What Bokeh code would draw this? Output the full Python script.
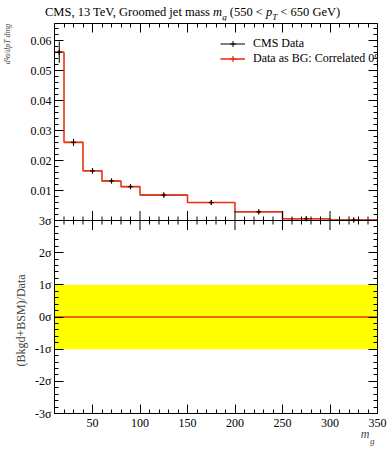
from math import pi
from bokeh.plotting import figure
from bokeh.models import (Range1d, LinearAxis, FixedTicker, CustomJSTickFormatter,
                          Legend, LegendItem, ColumnDataSource, Div, Span, Title)
from bokeh.layouts import column
from bokeh.embed import file_html
from bokeh.resources import INLINE

# ---------------- data ----------------
bin_edges = [10, 20, 40, 60, 80, 100, 150, 200, 250, 300, 350]
data_vals = [0.0562, 0.0261, 0.0166, 0.0132, 0.0113, 0.0085, 0.0060, 0.0029, 0.0006, 0.00015]
data_errs = [0.0036, 0.0012, 0.0009, 0.0007, 0.0007, 0.0005, 0.0003, 0.0002, 0.0001, 0.00005]
bg_vals = [0.0562, 0.0261, 0.0166, 0.0132, 0.0113, 0.0085, 0.0060, 0.0029, 0.0006, 0.00015]
ratio_sigma = [0, 0, 0, 0, 0, 0, 0, 0, 0, 0]
band_lo, band_hi = -1, 1

x_major = [50, 100, 150, 200, 250, 300, 350]
x_minor = [v for v in range(10, 351, 10) if v % 50]
top_major = [0.01, 0.02, 0.03, 0.04, 0.05, 0.06]
top_minor = [round(i * 0.002, 4) for i in range(1, 33) if i % 5]
sig_major = [-3, -2, -1, 0, 1, 2, 3]
sig_minor = [round(-3 + i * 0.2, 2) for i in range(31) if i % 5]

title_html = ("<span style=\"font-family:'Liberation Serif';font-size:12.5px;line-height:16px;"
              "white-space:nowrap;color:#000\">CMS, 13 TeV, Groomed jet mass <i>m</i>"
              "<sub style=\"font-size:9px;line-height:0\"><i>g</i></sub> (550 &lt; <i>p</i>"
              "<sub style=\"font-size:9px;line-height:0\"><i>T</i></sub> &lt; 650 GeV)</span>")
ylab_top = "d²σ/dpT dmg"
ylab_bottom = "(Bkgd+BSM)/Data"
xlab_main, xlab_sub = "m", "g"
legend_labels = ["CMS Data", "Data as BG: Correlated 0%"]

# ---------------- layout geometry ----------------
FONT = "Liberation Serif"
TOP_PX, BOT_PX = 197, 193
top_end = 0.0658
sig_lo, sig_hi = -3, 3
main_end = sig_hi + (sig_hi - sig_lo) * TOP_PX / BOT_PX
scale = (main_end - sig_hi) / top_end
top_start = -top_end * BOT_PX / TOP_PX

RED = "#ee3311"

p = figure(width=389, height=430, output_backend="svg", toolbar_location=None,
           x_range=Range1d(bin_edges[0], bin_edges[-1]), y_range=Range1d(sig_lo, main_end),
           min_border_left=49, min_border_right=12, min_border_top=3, min_border_bottom=37)
p.extra_y_ranges = {"top": Range1d(top_start, top_end)}
p.xgrid.visible = False
p.ygrid.visible = False
p.outline_line_color = "black"
p.background_fill_color = "white"
p.border_fill_color = "white"

xt = FixedTicker(ticks=x_major, minor_ticks=x_minor)
yt = FixedTicker(ticks=sig_major + [sig_hi + v * scale for v in top_major],
                 minor_ticks=sig_minor + [sig_hi + v * scale for v in top_minor])
yfmt = CustomJSTickFormatter(args=dict(s=scale, h=sig_hi), code="""
if (tick <= h + 1e-6) { const k = Math.round(tick); return k.toString() + 'σ'; }
return ((tick - h) / s).toFixed(2);
""")

def style_axis(ax, labels=True):
    ax.axis_line_color = "black"
    ax.major_tick_line_color = "black"
    ax.minor_tick_line_color = "black"
    ax.major_tick_in = 9
    ax.major_tick_out = 0
    ax.minor_tick_in = 4
    ax.minor_tick_out = 0
    if labels:
        ax.major_label_text_font = FONT
        ax.major_label_text_font_size = "12px"
        ax.major_label_text_color = "black"
    else:
        ax.formatter = CustomJSTickFormatter(code="return '';")
        ax.major_label_text_font_size = "0px"
        ax.major_label_standoff = 0

xb = p.xaxis[0]
xb.ticker = xt
style_axis(xb)
xb.major_label_standoff = 5
yl = p.yaxis[0]
yl.ticker = yt
yl.formatter = yfmt
style_axis(yl)
yl.major_label_standoff = 3

xa = LinearAxis(ticker=xt)
style_axis(xa, labels=False)
p.add_layout(xa, "above")
yr = LinearAxis(ticker=yt)
style_axis(yr, labels=False)
p.add_layout(yr, "right")

# ---------------- bottom panel ----------------
p.quad(left=bin_edges[0], right=bin_edges[-1], bottom=band_lo, top=band_hi,
       fill_color="#ffff00", line_color=None)
p.step(x=bin_edges, y=ratio_sigma + [ratio_sigma[-1]], mode="after", line_color=RED, line_width=1.5)

# ---------------- top panel ----------------
lo = bin_edges[:-1]
hi = bin_edges[1:]
xc = [(a + b) / 2 for a, b in zip(lo, hi)]
src = ColumnDataSource(dict(lo=lo, hi=hi, xc=xc, v=data_vals, bg=bg_vals,
                            vlo=[v - e for v, e in zip(data_vals, data_errs)],
                            vhi=[v + e for v, e in zip(data_vals, data_errs)]))
seg_h = p.segment(x0="lo", x1="hi", y0="v", y1="v", source=src, line_color="black",
                  line_width=1, y_range_name="top")
cross_red = p.scatter(x="xc", y="bg", source=src, marker="cross", size=5, line_color=RED,
                      line_width=1.3, y_range_name="top")
step_red = p.step(x=bin_edges, y=bg_vals + [bg_vals[-1]], mode="after", line_color=RED,
                  line_width=1.6, y_range_name="top")
p.segment(x0="xc", x1="xc", y0="vlo", y1="vhi", source=src, line_color="black", line_width=1,
          y_range_name="top")
cross_black = p.scatter(x="xc", y="v", source=src, marker="cross", size=5, line_color="black",
                        line_width=1, y_range_name="top")

# boundary between the panels
p.add_layout(Span(location=sig_hi, dimension="width", line_color="black", line_width=1))
p.scatter(x=x_major, y=[sig_hi] * len(x_major), marker="dash", angle=pi / 2, size=19,
          line_color="black", line_width=1)
p.scatter(x=x_minor, y=[sig_hi] * len(x_minor), marker="dash", angle=pi / 2, size=8,
          line_color="black", line_width=1)

# ---------------- legend ----------------
leg = Legend(items=[LegendItem(label=legend_labels[0], renderers=[seg_h, cross_black]),
                    LegendItem(label=legend_labels[1], renderers=[step_red, cross_red])],
             location=(166, 347), glyph_width=25, glyph_height=15, spacing=0,
             padding=0, margin=0, label_standoff=8, border_line_color=None,
             background_fill_alpha=0, label_text_font=FONT, label_text_font_size="12px",
             label_text_color="black", label_height=15, label_text_baseline="middle")
p.add_layout(leg)

# ---------------- axis titles ----------------
p.add_layout(Title(text=ylab_bottom, align="left", offset=47, standoff=0,
                   text_font=FONT, text_font_size="12px", text_font_style="normal"), "left")
p.add_layout(Title(text=ylab_top, align="right", offset=0, standoff=0,
                   text_font=FONT, text_font_size="8px", text_font_style="italic"), "left")
p.add_layout(Title(text=xlab_main, align="right", offset=8, standoff=-6, vertical_align="top",
                   text_font=FONT, text_font_size="12px", text_font_style="italic"), "below")
p.add_layout(Title(text=xlab_sub, align="right", offset=3, standoff=-8, vertical_align="top",
                   text_font=FONT, text_font_size="9px", text_font_style="italic"), "below")

div = Div(text=title_html, width=335, height=16, margin=(4, 0, 0, 45),
          styles={"overflow": "visible"})
layout = column(div, p, spacing=0)

open("out.html", "w").write(file_html(layout, INLINE))
